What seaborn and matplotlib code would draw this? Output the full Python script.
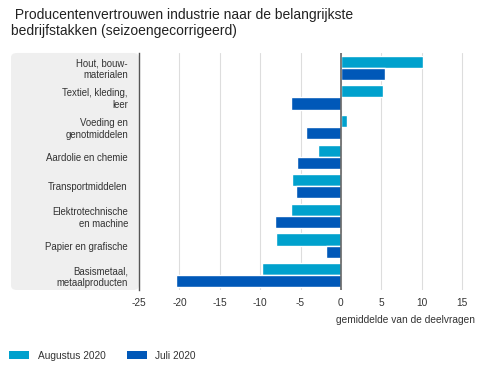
import pandas as pd
import seaborn as sns
import matplotlib.pyplot as plt
from matplotlib.patches import FancyBboxPatch, Patch

categories = ["Hout, bouw-\nmaterialen", "Textiel, kleding,\nleer", "Voeding en\ngenotmiddelen",
              "Aardolie en chemie", "Transportmiddelen", "Elektrotechnische\nen machine",
              "Papier en grafische", "Basismetaal,\nmetaalproducten"]
augustus = [10.1, 5.2, 0.8, -2.9, -6.0, -6.2, -8.0, -9.8]
juli = [5.4, -6.2, -4.3, -5.4, -5.6, -8.2, -1.9, -20.4]
series = ["Augustus 2020", "Juli 2020"]
colors = ["#00a1cd", "#0058b8"]

df = pd.DataFrame({"cat": categories * 2,
                   "val": augustus + juli,
                   "serie": [series[0]] * 8 + [series[1]] * 8})

sns.set_style("white")
plt.rcParams["font.family"] = ["Liberation Sans", "DejaVu Sans"]
plt.rcParams["axes.unicode_minus"] = False

fig = plt.figure(figsize=(5, 3.75), dpi=100)
ax = fig.add_axes([0.278, 0.2267, 0.672, 0.632])

# grey label panel
panel = FancyBboxPatch((0.022, 0.2267), 0.256, 0.632, boxstyle="round,pad=0,rounding_size=0.012",
                       transform=fig.transFigure, facecolor="#efefef", edgecolor="none", zorder=-5)
fig.patches.append(panel)

sns.barplot(data=df, y="cat", x="val", hue="serie", palette=colors, orient="h",
            width=0.82, saturation=1, ax=ax, legend=False, zorder=3)

ax.set_xlim(-25, 16.6)
ax.set_xticks(range(-25, 20, 5))
ax.grid(axis="x", color="#dddddd", linewidth=0.8, zorder=0)
ax.axvline(0, color="#666666", linewidth=1.2, zorder=4)
for s in ["top", "right", "bottom"]:
    ax.spines[s].set_visible(False)
ax.spines["left"].set_color("#555555")
ax.spines["left"].set_linewidth(1)
ax.set_facecolor("none")
ax.set_ylabel("")
ax.set_xlabel("gemiddelde van de deelvragen", fontsize=7.3, color="#333333", loc="right", labelpad=5)
ax.tick_params(axis="x", length=0, labelsize=7.3, labelcolor="#333333", pad=6)
ax.tick_params(axis="y", length=0, labelsize=6.9, labelcolor="#333333", pad=8)
for t in ax.get_yticklabels():
    t.set_horizontalalignment("right")
    t.set_multialignment("right")

fig.text(0.022, 0.979, " Producentenvertrouwen industrie naar de belangrijkste\nbedrijfstakken (seizoengecorrigeerd)",
         fontsize=10, color="#222222", va="top", ha="left", linespacing=1.2)

# legend
handles = [Patch(facecolor=c, edgecolor="none") for c in colors]
fig.legend(handles, series, loc="lower left", bbox_to_anchor=(0.0, 0.014), ncol=2, frameon=False,
           fontsize=7.3, handlelength=2.0, handleheight=0.8, columnspacing=2.1, handletextpad=0.8,
           labelcolor="#333333")

fig.savefig("out.png", dpi=100)
